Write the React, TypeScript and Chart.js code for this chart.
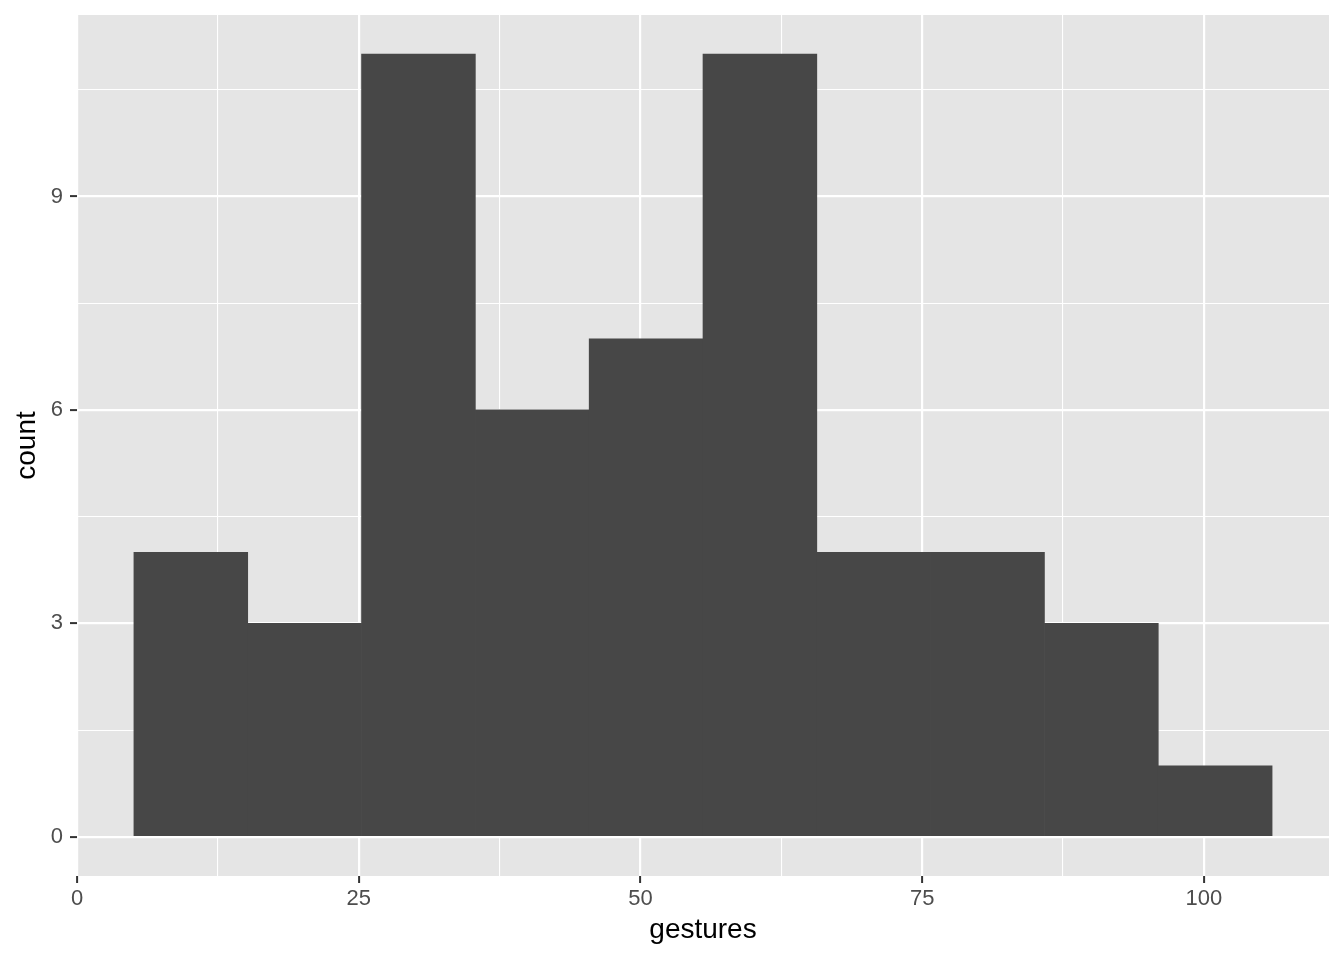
import React, { useEffect, useRef } from "react";
import { Chart, registerables } from "chart.js";

Chart.register(...registerables);

// Histogram of "gestures": bin edges and counts
const binEdges = [5.05, 15.15, 25.25, 35.35, 45.45, 55.55, 65.65, 75.75, 85.85, 95.95, 106.05];
const counts = [4, 3, 11, 6, 7, 11, 4, 4, 3, 1];
const xTicks = [0, 12.5, 25, 37.5, 50, 62.5, 75, 87.5, 100];
const xMajor = [0, 25, 50, 75, 100];
const yTicks = [0, 1.5, 3, 4.5, 6, 7.5, 9, 10.5];
const yMajor = [0, 3, 6, 9];
const xLabel = "gestures";
const yLabel = "count";

const panelBg = {
  id: "panelBg",
  beforeDraw(chart: any) {
    const { ctx, chartArea } = chart;
    ctx.save();
    ctx.fillStyle = "#E5E5E5";
    ctx.fillRect(chartArea.left, chartArea.top, chartArea.right - chartArea.left, chartArea.bottom - chartArea.top);
    ctx.restore();
  },
};

export default function App() {
  const ref = useRef<HTMLCanvasElement>(null);
  useEffect(() => {
    if (!ref.current) return;
    const points = counts.map((c, i) => ({ x: (binEdges[i] + binEdges[i + 1]) / 2, y: c }));
    const range = binEdges[binEdges.length - 1] - binEdges[0];
    const yMax = Math.max(...counts);
    const font = "'Liberation Sans', Arial, Helvetica, sans-serif";
    const chart = new Chart(ref.current, {
      type: "bar",
      data: {
        datasets: [
          {
            data: points as any,
            backgroundColor: "#474747",
            borderWidth: 0,
            barPercentage: 1,
            categoryPercentage: 1,
          },
        ],
      },
      plugins: [panelBg],
      options: {
        responsive: false,
        animation: false,
        layout: { padding: { top: 15, right: 15, left: 0, bottom: 0 } },
        plugins: { legend: { display: false }, tooltip: { enabled: false } },
        scales: {
          x: {
            type: "linear",
            offset: false,
            min: binEdges[0] - 0.05 * range,
            max: binEdges[binEdges.length - 1] + 0.05 * range,
            afterBuildTicks: (s: any) => {
              s.ticks = xTicks.map((v) => ({ value: v }));
            },
            afterFit: (s: any) => {
              s.height = 84;
              s.paddingLeft = 0;
              s.paddingRight = 0;
            },
            border: { display: false },
            grid: {
              offset: false,
              color: "#FFFFFF",
              lineWidth: (c: any) => (xMajor.includes(c.tick?.value) ? 2.2 : 1.1),
              tickColor: (c: any) => (xMajor.includes(c.tick?.value) ? "#333333" : "rgba(0,0,0,0)"),
              tickWidth: 2,
              tickLength: 7,
            },
            ticks: {
              autoSkip: false,
              maxRotation: 0,
              padding: 3,
              color: "#4D4D4D",
              font: { family: font, size: 22 },
              callback: (v: any) => (xMajor.includes(Number(v)) ? String(v) : ""),
            },
            title: {
              display: true,
              text: xLabel,
              color: "#000000",
              font: { family: font, size: 28 },
              padding: { top: 0, bottom: 13 },
            },
          },
          y: {
            type: "linear",
            min: -0.05 * yMax,
            max: yMax * 1.05,
            afterBuildTicks: (s: any) => {
              s.ticks = yTicks.map((v) => ({ value: v }));
            },
            afterFit: (s: any) => {
              s.width = 77;
              s.paddingTop = 0;
              s.paddingBottom = 0;
            },
            border: { display: false },
            grid: {
              color: "#FFFFFF",
              lineWidth: (c: any) => (yMajor.includes(c.tick?.value) ? 2.2 : 1.1),
              tickColor: (c: any) => (yMajor.includes(c.tick?.value) ? "#333333" : "rgba(0,0,0,0)"),
              tickWidth: 2,
              tickLength: 7,
            },
            ticks: {
              autoSkip: false,
              padding: 7,
              color: "#4D4D4D",
              font: { family: font, size: 22 },
              callback: (v: any) => (yMajor.includes(Number(v)) ? String(v) : ""),
            },
            title: {
              display: true,
              text: yLabel,
              color: "#000000",
              font: { family: font, size: 28 },
              padding: { top: 10, bottom: 0 },
            },
          },
        },
      } as any,
    });
    return () => chart.destroy();
  }, []);
  return (
    <div style={{ position: "absolute", left: 0, top: 0, width: 1344, height: 960, background: "#FFFFFF" }}>
      <canvas ref={ref} width={1344} height={960} />
    </div>
  );
}
